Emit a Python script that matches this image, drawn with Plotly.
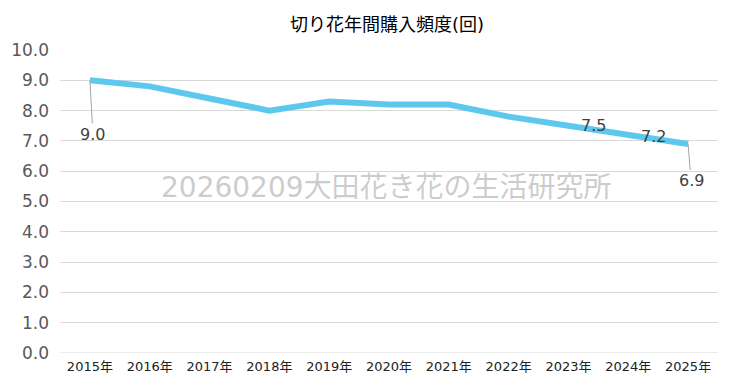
import plotly.graph_objects as go

years = ["2015年", "2016年", "2017年", "2018年", "2019年", "2020年",
         "2021年", "2022年", "2023年", "2024年", "2025年"]
freq = [9.0, 8.8, 8.4, 8.0, 8.3, 8.2, 8.2, 7.8, 7.5, 7.2, 6.9]
y_ticks = [0, 1, 2, 3, 4, 5, 6, 7, 8, 9, 10]
y_tick_labels = ["0.0", "1.0", "2.0", "3.0", "4.0", "5.0", "6.0", "7.0", "8.0", "9.0", "10.0"]
title_text = "切り花年間購入頻度(回)"
watermark = "20260209大田花き花の生活研究所"

FONT = "DejaVu Sans, Noto Sans CJK JP"
# page body has an 8px default margin; size the figure to fit the 732x384 window
OFF = 8
W, H = 732 - OFF, 384 - OFF
ml, mr, mt, mb = 60 - OFF, 14, 50 - OFF, 31

fig = go.Figure()
fig.add_trace(go.Scatter(
    x=years, y=freq, mode="lines",
    line=dict(color="#5DC8EE", width=6),
    hoverinfo="skip", showlegend=False,
))

lab_font = dict(family=FONT, size=16, color="#404040")
annotations = [
    dict(x=years[0], y=freq[0], xref="x", yref="y", text=f"{freq[0]:.1f}",
         showarrow=True, arrowhead=0, arrowwidth=1, arrowcolor="#A6A6A6",
         ax=3, ay=54, standoff=0, font=lab_font),
    dict(x=years[8], y=freq[8], xref="x", yref="y", text=f"{freq[8]:.1f}",
         showarrow=False, xshift=25, yshift=0, font=lab_font),
    dict(x=years[9], y=freq[9], xref="x", yref="y", text=f"{freq[9]:.1f}",
         showarrow=False, xshift=25, yshift=-2, font=lab_font),
    dict(x=years[10], y=freq[10], xref="x", yref="y", text=f"{freq[10]:.1f}",
         showarrow=True, arrowhead=0, arrowwidth=1, arrowcolor="#A6A6A6",
         ax=3, ay=37, standoff=0, font=lab_font),
    dict(x=(386 - OFF - ml) / (W - ml - mr), y=(H - mb - (187 - OFF)) / (H - mt - mb),
         xref="paper", yref="paper", text=watermark, showarrow=False,
         font=dict(family=FONT, size=28, color="rgba(170,170,170,0.6)")),
]

fig.update_layout(
    width=W, height=H,
    margin=dict(l=ml, r=mr, t=mt, b=mb, autoexpand=False),
    paper_bgcolor="white", plot_bgcolor="white",
    title=dict(text=title_text, x=(387 - OFF) / W, xanchor="center", y=1 - (25 - OFF) / H,
               yanchor="middle", automargin=False,
               font=dict(family=FONT, size=18, color="#000000")),
    xaxis=dict(type="category", range=[-0.5, 10.5], showgrid=False, automargin=False,
               showline=False, ticks="", ticklabelstandoff=4,
               tickfont=dict(family=FONT, size=13, color="#222222")),
    yaxis=dict(range=[0, 10], tickvals=y_ticks, ticktext=y_tick_labels, automargin=False,
               showgrid=True, gridcolor="#D9D9D9", gridwidth=1, zeroline=False,
               showline=False, ticks="", ticklabelstandoff=10,
               tickfont=dict(family=FONT, size=17, color="#595959")),
    annotations=annotations,
)
fig.add_shape(type="line", xref="paper", yref="y", x0=0, x1=1, y0=0, y1=0,
              line=dict(color="#D9D9D9", width=1), layer="below")

fig.write_html("out.html")
